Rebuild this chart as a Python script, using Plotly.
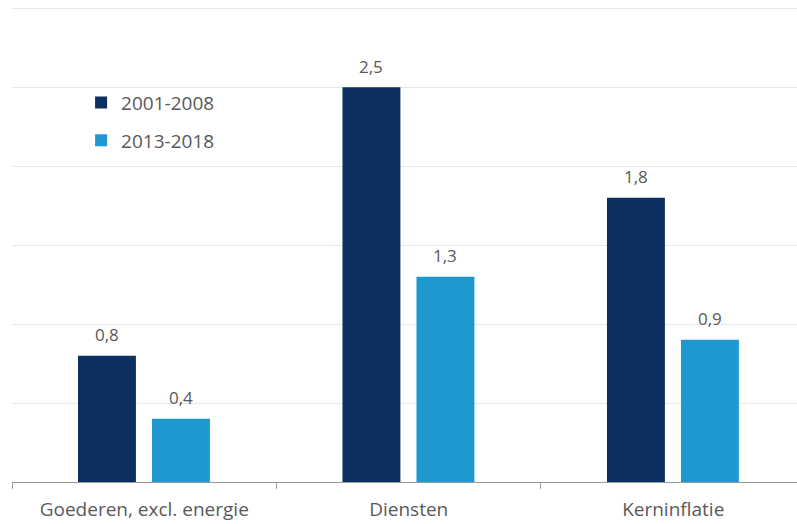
import plotly.graph_objects as go

categories = ["Goederen, excl. energie", "Diensten", "Kerninflatie"]
series_names = ["2001-2008", "2013-2018"]
values_2001_2008 = [0.8, 2.5, 1.8]
values_2013_2018 = [0.4, 1.3, 0.9]

DARK = "#0b2f5f"
LIGHT = "#1f98d0"
TEXT = "#595959"
FONT = "'Open Sans', sans-serif"

BAR_W = 0.219
series = [
    (series_names[0], values_2001_2008, DARK, -0.2505, "a"),
    (series_names[1], values_2013_2018, LIGHT, 0.0293, "b"),
]

fig = go.Figure()
annotations = []
for name, vals, color, offset, group in series:
    fig.add_trace(go.Bar(
        x=categories, y=vals, name=name,
        marker=dict(color=color, line=dict(width=0)),
        width=BAR_W, offset=offset,
        legendgroup=group,
    ))
    # value labels above each bar, with comma as decimal separator
    shift_px = (offset + BAR_W / 2) * 264.5
    for cat, v in zip(categories, vals):
        annotations.append(dict(
            x=cat, y=v, xref="x", yref="y",
            text=f"{v:.1f}".replace(".", ","),
            showarrow=False, xshift=shift_px, yshift=21,
            font=dict(family=FONT, size=17, color=TEXT),
        ))

fig.update_layout(
    width=797, height=524,
    margin=dict(l=12, r=0, t=5, b=42),
    paper_bgcolor="white", plot_bgcolor="white",
    barmode="overlay",
    showlegend=True,
    annotations=annotations,
    legend=dict(
        x=0.088, y=0.835, xanchor="left", yanchor="top",
        font=dict(family=FONT, size=19, color=TEXT),
        tracegroupgap=10, itemwidth=30,
        bgcolor="rgba(0,0,0,0)",
    ),
    xaxis=dict(
        range=[-0.5, 2.468],
        showline=True, linecolor="#9a9a9a", linewidth=1,
        ticks="outside", tickson="boundaries", ticklen=6,
        tickcolor="#9a9a9a", showgrid=False,
        ticklabelstandoff=10,
        tickfont=dict(family=FONT, size=19, color=TEXT),
    ),
    yaxis=dict(
        range=[0, 3.02], dtick=0.5, showticklabels=False,
        showgrid=True, gridcolor="#e6e6e6", gridwidth=1,
        zeroline=False, showline=False,
    ),
)

fig.write_html("out.html")
